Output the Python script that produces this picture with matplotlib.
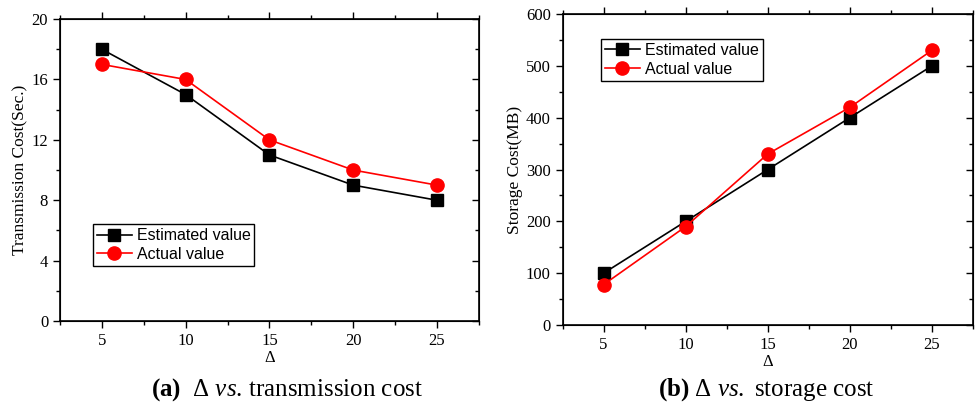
import matplotlib
matplotlib.use("Agg")
import matplotlib.pyplot as plt
from matplotlib.ticker import MultipleLocator

# data
delta = [5, 10, 15, 20, 25]
trans_est = [18, 15, 11, 9, 8]
trans_act = [17, 16, 12, 10, 9]
store_est = [100, 200, 300, 400, 500]
store_act = [78, 190, 330, 420, 530]

serif = "Liberation Serif"
sans = "Liberation Sans"

plt.rcParams["mathtext.fontset"] = "custom"
plt.rcParams["mathtext.rm"] = serif
plt.rcParams["mathtext.it"] = serif + ":italic"
plt.rcParams["mathtext.bf"] = serif + ":bold"

fig = plt.figure(figsize=(9.75, 4.08), dpi=100)
ax1 = fig.add_axes([0.0615, 0.2132, 0.4297, 0.740])
ax2 = fig.add_axes([0.577, 0.2034, 0.4208, 0.762])


def style_axes(ax, ymax, ymajor, yminor, ylabel):
    ax.set_xlim(2.5, 27.5)
    ax.set_ylim(0, ymax)
    ax.xaxis.set_major_locator(MultipleLocator(5))
    ax.xaxis.set_minor_locator(MultipleLocator(2.5))
    ax.yaxis.set_major_locator(MultipleLocator(ymajor))
    ax.yaxis.set_minor_locator(MultipleLocator(yminor))
    ax.tick_params(which="both", direction="out", top=True, right=False, width=1)
    ax.tick_params(which="major", length=5)
    ax.tick_params(which="minor", length=3)
    for lab in ax.get_xticklabels() + ax.get_yticklabels():
        lab.set_fontfamily(serif)
        lab.set_fontsize(12)
    ax.set_xlabel("Δ", fontfamily=serif, fontsize=12, labelpad=1)
    ax.set_ylabel(ylabel, fontfamily=serif, fontsize=12.5, labelpad=2)
    for s in ax.spines.values():
        s.set_linewidth(1.2)
    # right side ticks point inward
    tw = ax.twinx()
    tw.set_ylim(ax.get_ylim())
    tw.yaxis.set_major_locator(MultipleLocator(ymajor))
    tw.yaxis.set_minor_locator(MultipleLocator(yminor))
    tw.tick_params(which="both", direction="in", labelright=False, width=1)
    tw.tick_params(which="major", length=5)
    tw.tick_params(which="minor", length=3)


def draw(ax, est, act, loc):
    ax.plot(delta, est, color="black", lw=1.2, marker="s", ms=9,
            label="Estimated value", zorder=3)
    ax.plot(delta, act, color="red", lw=1.2, marker="o", ms=9.5,
            label="Actual value", zorder=4)
    leg = ax.legend(loc="upper left", bbox_to_anchor=loc, fancybox=False,
                    framealpha=1, edgecolor="black", borderpad=0.25,
                    handlelength=2.2, handletextpad=0.3, labelspacing=0.25,
                    borderaxespad=0, prop={"family": sans, "size": 11.5})
    leg.get_frame().set_linewidth(1.0)


draw(ax1, trans_est, trans_act, (0.078, 0.321))
style_axes(ax1, 20, 4, 2, "Transmission Cost(Sec.)")

draw(ax2, store_est, store_act, (0.093, 0.92))
style_axes(ax2, 600, 100, 50, "Storage Cost(MB)")

fig.text(0.294, 0.045, r"$\mathbf{(a)}$  Δ $\mathit{vs}$. transmission cost",
         ha="center", va="center", fontsize=18, fontfamily=serif)
fig.text(0.786, 0.045, r"$\mathbf{(b)}$ Δ $\mathit{vs.}$ storage cost",
         ha="center", va="center", fontsize=18, fontfamily=serif)

fig.savefig("out.png", dpi=100)
